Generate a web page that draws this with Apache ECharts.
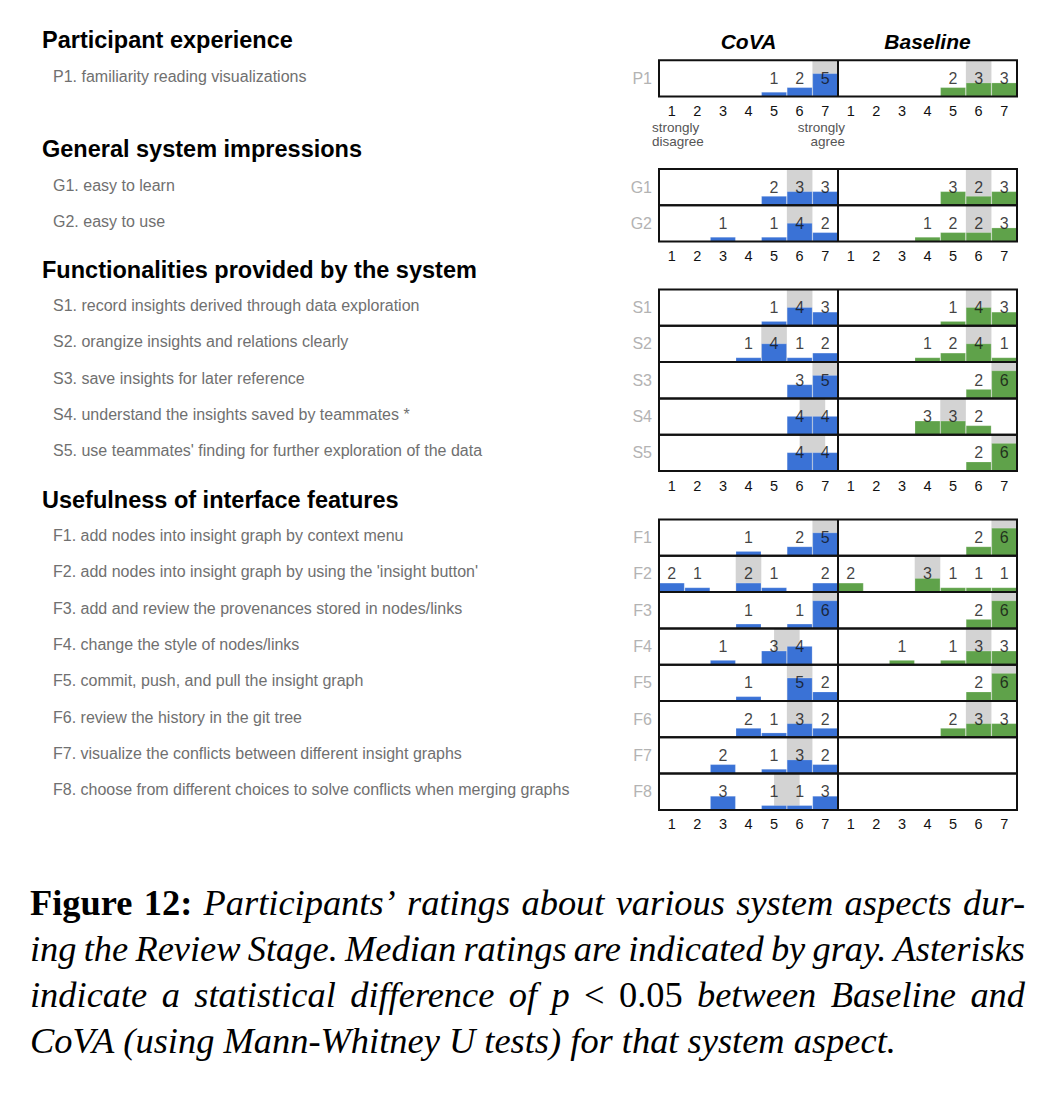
<!DOCTYPE html>
<html>
<head>
<meta charset="utf-8">
<script src="https://cdn.jsdelivr.net/npm/echarts@6/dist/echarts.min.js"></script>
<style>
html,body{margin:0;padding:0;background:#fff;}
#chart{width:1063px;height:1095px;}
</style>
</head>
<body>
<div id="chart"></div>
<script>
// ---------------- data ----------------
const ratingTicks = ['1', '2', '3', '4', '5', '6', '7'];
const panelTitles = ['CoVA', 'Baseline'];
const scaleEndLabels = ['strongly\ndisagree', 'strongly\nagree'];
const groupTitles = [
  'Participant experience',
  'General system impressions',
  'Functionalities provided by the system',
  'Usefulness of interface features'
];
const rowIds = ['P1', 'G1', 'G2', 'S1', 'S2', 'S3', 'S4', 'S5', 'F1', 'F2', 'F3', 'F4', 'F5', 'F6', 'F7', 'F8'];
const rowGroups = [0, 1, 1, 2, 2, 2, 2, 2, 3, 3, 3, 3, 3, 3, 3, 3];
const rowTexts = [
  'P1. familiarity reading visualizations',
  'G1. easy to learn',
  'G2. easy to use',
  'S1. record insights derived through data exploration',
  'S2. orangize insights and relations clearly',
  'S3. save insights for later reference',
  'S4. understand the insights saved by teammates *',
  "S5. use teammates' finding for further exploration of the data",
  'F1. add nodes into insight graph by context menu',
  "F2. add nodes into insight graph by using the 'insight button'",
  'F3. add and review the provenances stored in nodes/links',
  'F4. change the style of nodes/links',
  'F5. commit, push, and pull the insight graph',
  'F6. review the history in the git tree',
  'F7. visualize the conflicts between different insight graphs',
  'F8. choose from different choices to solve conflicts when merging graphs'
];
const covaCounts = [
  [0, 0, 0, 0, 1, 2, 5],
  [0, 0, 0, 0, 2, 3, 3],
  [0, 0, 1, 0, 1, 4, 2],
  [0, 0, 0, 0, 1, 4, 3],
  [0, 0, 0, 1, 4, 1, 2],
  [0, 0, 0, 0, 0, 3, 5],
  [0, 0, 0, 0, 0, 4, 4],
  [0, 0, 0, 0, 0, 4, 4],
  [0, 0, 0, 1, 0, 2, 5],
  [2, 1, 0, 2, 1, 0, 2],
  [0, 0, 0, 1, 0, 1, 6],
  [0, 0, 1, 0, 3, 4, 0],
  [0, 0, 0, 1, 0, 5, 2],
  [0, 0, 0, 2, 1, 3, 2],
  [0, 0, 2, 0, 1, 3, 2],
  [0, 0, 3, 0, 1, 1, 3]
];
const baselineCounts = [
  [0, 0, 0, 0, 2, 3, 3],
  [0, 0, 0, 0, 3, 2, 3],
  [0, 0, 0, 1, 2, 2, 3],
  [0, 0, 0, 0, 1, 4, 3],
  [0, 0, 0, 1, 2, 4, 1],
  [0, 0, 0, 0, 0, 2, 6],
  [0, 0, 0, 3, 3, 2, 0],
  [0, 0, 0, 0, 0, 2, 6],
  [0, 0, 0, 0, 0, 2, 6],
  [2, 0, 0, 3, 1, 1, 1],
  [0, 0, 0, 0, 0, 2, 6],
  [0, 0, 1, 0, 1, 3, 3],
  [0, 0, 0, 0, 0, 2, 6],
  [0, 0, 0, 0, 2, 3, 3],
  [0, 0, 0, 0, 0, 0, 0],
  [0, 0, 0, 0, 0, 0, 0]
];
const covaMedians = [7, 6, 6, 6, 5, 7, 6.5, 6.5, 7, 4, 7, 5.5, 6, 6, 6, 5.5];
const baselineMedians = [6, 6, 6, 6, 6, 7, 5, 7, 7, 4, 7, 6, 7, 6, null, null];
const captionLines = [
  'Figure 12: Participants\u2019 ratings about various system aspects dur-',
  'ing the Review Stage. Median ratings are indicated by gray. Asterisks',
  'indicate a statistical difference of p < 0.05 between Baseline and',
  'CoVA (using Mann-Whitney U tests) for that system aspect.'
];

// ---------------- layout / style ----------------
const SANS = '"Liberation Sans", Arial, Helvetica, sans-serif';
const SERIF = '"Liberation Serif", "Times New Roman", serif';
const BLUE = '#3a72d6', GREEN = '#5fa24a', MED = '#d3d3d3', INK = '#111111';
const GRID_LEFT = 659, GRID_W = 358, ROW_H = 36.3, Y_MAX = 7.8;
const GROUP_TOPS = [60.3, 169, 289.5, 519.5];
const NBIN = ratingTicks.length;

const rowTop = rowIds.map((id, r) => {
  const g = rowGroups[r];
  const k = rowGroups.slice(0, r).filter(x => x === g).length;
  return GROUP_TOPS[g] + k * ROW_H;
});
const isLast = rowIds.map((id, r) => r === rowIds.length - 1 || rowGroups[r + 1] !== rowGroups[r]);

const grids = [], xAxes = [], yAxes = [], series = [], graphics = [];

rowIds.forEach((id, r) => {
  grids.push({
    left: GRID_LEFT, top: rowTop[r], width: GRID_W, height: ROW_H,
    show: true, backgroundColor: 'transparent', borderColor: INK, borderWidth: 2,
    z: 10, containLabel: false, outerBoundsMode: 'none'
  });
  xAxes.push({
    type: 'category', gridIndex: r, data: ratingTicks.concat(ratingTicks), boundaryGap: true,
    axisLine: { show: false }, axisTick: { show: false }, splitLine: { show: false },
    axisLabel: { show: isLast[r], interval: 0, margin: 7, fontSize: 14.5, color: INK, fontFamily: SANS }
  });
  xAxes.push({ type: 'value', gridIndex: r, min: 0.5, max: 2 * NBIN + 0.5, show: false });
  yAxes.push({
    type: 'value', gridIndex: r, min: 0, max: Y_MAX,
    axisLine: { show: false }, axisTick: { show: false }, axisLabel: { show: false }, splitLine: { show: false },
    name: id, nameLocation: 'middle', nameRotate: 0, nameGap: 7,
    nameTextStyle: { color: '#b3b3b3', fontSize: 16, fontFamily: SANS, align: 'right', verticalAlign: 'middle' }
  });

  const empty = ratingTicks.map(() => '-');
  const covaData = covaCounts[r].map(v => (v > 0 ? v : '-')).concat(empty);
  const baseData = empty.concat(baselineCounts[r].map(v => (v > 0 ? v : '-')));

  // median bands
  const bands = [];
  if (covaMedians[r] != null) bands.push([covaMedians[r] - 0.5, covaMedians[r] + 0.5]);
  if (baselineMedians[r] != null) bands.push([baselineMedians[r] + NBIN - 0.5, baselineMedians[r] + NBIN + 0.5]);
  series.push({
    type: 'custom', xAxisIndex: 2 * r + 1, yAxisIndex: r, z: 1, silent: true, data: bands,
    renderItem: (params, api) => {
      const p0 = api.coord([api.value(0), Y_MAX]);
      const p1 = api.coord([api.value(1), 0]);
      return { type: 'rect', shape: { x: p0[0], y: p0[1], width: p1[0] - p0[0], height: p1[1] - p0[1] }, style: { fill: MED } };
    }
  });

  const barItem = (color) => ({ color: color, borderColor: 'rgba(255,255,255,0.35)', borderWidth: 0.6 });
  series.push({
    type: 'bar', name: panelTitles[0], xAxisIndex: 2 * r, yAxisIndex: r, data: covaData,
    barWidth: '100%', barGap: '-100%', z: 2, silent: true, itemStyle: barItem(BLUE)
  });
  series.push({
    type: 'bar', name: panelTitles[1], xAxisIndex: 2 * r, yAxisIndex: r, data: baseData,
    barWidth: '100%', barGap: '-100%', z: 2, silent: true, itemStyle: barItem(GREEN)
  });

  // count labels (row middle)
  const labels = [];
  covaCounts[r].forEach((v, i) => { if (v > 0) labels.push([i, Y_MAX / 2, v]); });
  baselineCounts[r].forEach((v, i) => { if (v > 0) labels.push([i + NBIN, Y_MAX / 2, v]); });
  series.push({
    type: 'scatter', xAxisIndex: 2 * r, yAxisIndex: r, symbolSize: 0, z: 5, silent: true, data: labels,
    label: { show: true, position: 'inside', formatter: p => String(p.value[2]), fontSize: 16, color: INK, fontFamily: SANS }
  });

  // panel divider
  series.push({
    type: 'custom', xAxisIndex: 2 * r + 1, yAxisIndex: r, z: 12, silent: true, data: [[NBIN + 0.5, 0]],
    renderItem: (params, api) => {
      const a = api.coord([api.value(0), 0]);
      const b = api.coord([api.value(0), Y_MAX]);
      return { type: 'line', shape: { x1: a[0], y1: a[1], x2: b[0], y2: b[1] }, style: { stroke: INK, lineWidth: 2 } };
    }
  });

  // left question text
  graphics.push({
    type: 'text', x: 53, y: rowTop[r] + ROW_H / 2 - 2, silent: true,
    style: { text: rowTexts[r], font: '16px ' + SANS, fill: '#707070', align: 'left', verticalAlign: 'middle', textAlign: 'left', textVerticalAlign: 'middle' }
  });
});

// group titles
groupTitles.forEach((t, g) => {
  graphics.push({
    type: 'text', x: 42, y: GROUP_TOPS[g] - 20, silent: true,
    style: { text: t, font: 'bold 23.5px ' + SANS, fill: '#000', align: 'left', verticalAlign: 'middle', textAlign: 'left', textVerticalAlign: 'middle' }
  });
});

// panel titles
panelTitles.forEach((t, i) => {
  graphics.push({
    type: 'text', x: GRID_LEFT + GRID_W / 4 + i * GRID_W / 2, y: 41, silent: true,
    style: { text: t, font: 'italic bold 21px ' + SANS, fill: '#000', align: 'center', verticalAlign: 'middle', textAlign: 'center', textVerticalAlign: 'middle' }
  });
});

// scale end labels
graphics.push({
  type: 'text', x: 652, y: 121, silent: true,
  style: { text: scaleEndLabels[0], font: '13.5px ' + SANS, lineHeight: 13.5, fill: '#555', align: 'left', verticalAlign: 'top', textAlign: 'left', textVerticalAlign: 'top' }
});
graphics.push({
  type: 'text', x: 845, y: 121, silent: true,
  style: { text: scaleEndLabels[1], font: '13.5px ' + SANS, lineHeight: 13.5, fill: '#555', align: 'right', verticalAlign: 'top', textAlign: 'right', textVerticalAlign: 'top' }
});

// caption (justified)
const CAP_LEFT = 30, CAP_RIGHT = 1025, CAP_BASE0 = 915, CAP_STEP = 45.9, CAP_LAST_W = 866;
const mctx = document.createElement('canvas').getContext('2d');
function measure(txt, font) { mctx.font = font; return mctx.measureText(txt).width; }
const refW = measure(captionLines[captionLines.length - 1], 'italic 35px ' + SERIF);
const CAP_SIZE = Math.max(30, Math.min(40, 35 * CAP_LAST_W / refW));
const fItalic = 'italic ' + CAP_SIZE + 'px ' + SERIF;
const fRoman = CAP_SIZE + 'px ' + SERIF;
const fBold = 'bold ' + CAP_SIZE + 'px ' + SERIF;
captionLines.forEach((line, li) => {
  const words = line.split(' ');
  const fonts = words.map((w, wi) => (li === 0 && wi < 2) ? fBold : ((w === '<' || w === '0.05') ? fRoman : fItalic));
  const widths = words.map((w, i) => measure(w, fonts[i]));
  const total = widths.reduce((a, b) => a + b, 0);
  const justify = li < captionLines.length - 1;
  const gap = justify ? (CAP_RIGHT - CAP_LEFT - total) / (words.length - 1) : measure(' ', fItalic);
  let x = CAP_LEFT;
  const y = CAP_BASE0 + li * CAP_STEP - 0.33 * CAP_SIZE;
  words.forEach((w, i) => {
    graphics.push({
      type: 'text', x: x, y: y, silent: true,
      style: { text: w, font: fonts[i], fill: '#000', align: 'left', verticalAlign: 'middle', textAlign: 'left', textVerticalAlign: 'middle' }
    });
    x += widths[i] + gap;
  });
});

const chart = echarts.init(document.getElementById('chart'), null, { renderer: 'svg', width: 1063, height: 1095 });
chart.setOption({
  animation: false,
  backgroundColor: '#ffffff',
  grid: grids,
  xAxis: xAxes,
  yAxis: yAxes,
  series: series,
  graphic: { elements: graphics }
});
</script>
</body>
</html>
